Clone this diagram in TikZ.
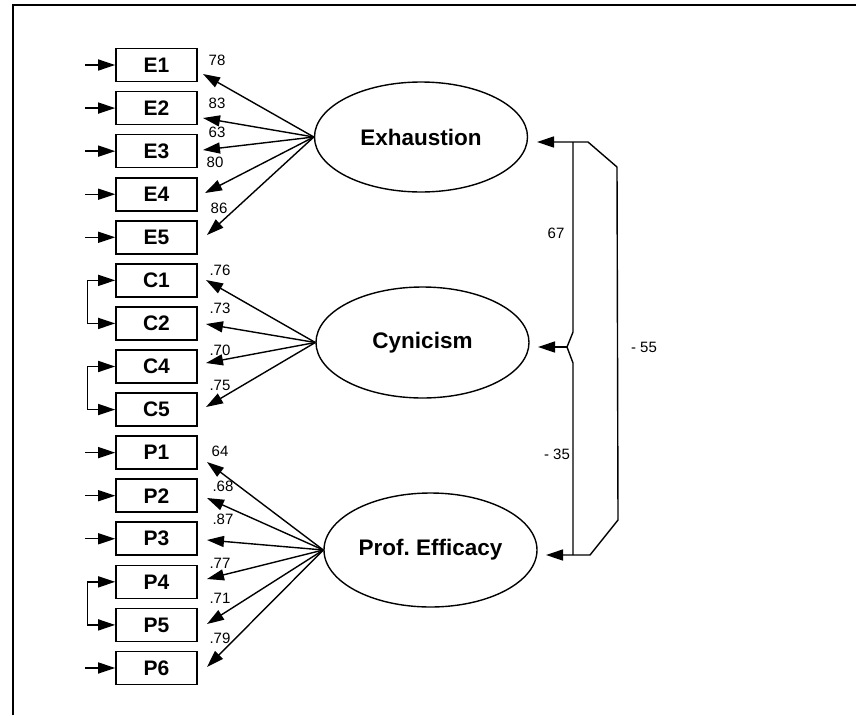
\documentclass[tikz,border=0pt]{standalone}
\usepackage{fontspec}
\setmainfont{Liberation Sans}
\usetikzlibrary{arrows.meta,shapes.geometric}
\tikzset{
  obs/.style={draw, line width=1.6pt, minimum width=81pt, minimum height=33pt, inner sep=0pt,
    font=\bfseries\fontsize{21}{21}\selectfont},
  lat/.style={draw, line width=1.4pt, ellipse, minimum width=213pt, inner sep=0pt,
    font=\bfseries\fontsize{22.5}{22.5}\selectfont},
  arr/.style={line width=1.4pt, -{Triangle[length=17pt,width=11pt]}},
  darr/.style={line width=1.4pt, {Triangle[length=17pt,width=11pt]}-{Triangle[length=17pt,width=11pt]}},
  lbl/.style={font=\fontsize{15}{15}\selectfont, inner sep=0pt},
}
\begin{document}
\begin{tikzpicture}[x=1pt,y=-1pt]
\useasboundingbox (0,0) rectangle (856,715);
% frame
\draw[line width=2.4pt] (13,715) -- (13,5) -- (856,5);
% observed boxes
\foreach \n/\i in {E1/0,E2/1,E3/2,E4/3,E5/4,C1/5,C2/6,C4/7,C5/8,P1/9,P2/10,P3/11,P4/12,P5/13,P6/14}{
  \node[obs] (\n) at (156.5,{65+43.07*\i}) {\n};
}
% error arrows
\foreach \n in {E1,E2,E3,E4,E5,P1,P2,P3,P6}{
  \coordinate (s\n) at ([xshift=-30pt]\n.west);
  \draw[arr] (s\n) -- (\n.west);
}
% correlated errors
\foreach \a/\b in {C1/C2,C4/C5,P4/P5}{
  \coordinate (k\a) at ([xshift=-28pt]\a.west);
  \coordinate (k\b) at ([xshift=-28pt]\b.west);
  \draw[darr] (\a.west) -- (k\a) -- (k\b) -- (\b.west);
}
% latent variables
\node[lat, minimum height=110pt] (Ex) at (421,137) {Exhaustion};
\node[lat, minimum height=111pt] (Cy) at (422.5,342.5) {Cynicism};
\node[lat, minimum height=114pt] (Pe) at (430.5,550) {Prof.\ Efficacy};
% loading tips
\coordinate (tE1) at (203,74);
\coordinate (tE2) at (203,118);
\coordinate (tE3) at (203,150);
\coordinate (tE4) at (205,193);
\coordinate (tE5) at (207,235);
\coordinate (tC1) at (206,280);
\coordinate (tC2) at (206,324);
\coordinate (tC4) at (206,363);
\coordinate (tC5) at (206,407);
\coordinate (tP1) at (207,462);
\coordinate (tP2) at (207,498);
\coordinate (tP3) at (207,540);
\coordinate (tP4) at (207,579);
\coordinate (tP5) at (207,624);
\coordinate (tP6) at (207,667);
\foreach \n in {E1,E2,E3,E4,E5}{\draw[arr] (Ex.west) -- (t\n);}
\foreach \n in {C1,C2,C4,C5}{\draw[arr] (Cy.west) -- (t\n);}
\foreach \n in {P1,P2,P3,P4,P5,P6}{\draw[arr] (Pe.west) -- (t\n);}
% loading labels
\node[lbl] (l1) at (217,60) {78};
\node[lbl] (l2) at (217,103) {83};
\node[lbl] (l3) at (217,132) {63};
\node[lbl] (l4) at (215,162) {80};
\node[lbl] (l5) at (219,208) {86};
\node[lbl] (l6) at (220,270) {.76};
\node[lbl] (l7) at (220,308) {.73};
\node[lbl] (l8) at (220,350) {.70};
\node[lbl] (l9) at (220,385) {.75};
\node[lbl] (l10) at (220,451) {64};
\node[lbl] (l11) at (223,486) {.68};
\node[lbl] (l12) at (223,519) {.87};
\node[lbl] (l13) at (220,563) {.77};
\node[lbl] (l14) at (220,598) {.71};
\node[lbl] (l15) at (220,638) {.79};
% correlations
\coordinate (aEx) at (537,142);
\coordinate (aCy) at (538,347);
\coordinate (aPe) at (546,555);
\coordinate (i1) at (573,142);
\coordinate (i2) at (573,332);
\coordinate (i3) at (567,347);
\coordinate (i4) at (573,363);
\coordinate (i5) at (573,555);
\coordinate (o1) at (588,142);
\coordinate (o2) at (617,167);
\coordinate (o3) at (618,520);
\coordinate (o4) at (590,555);
\draw[line width=1.4pt] (i1) -- (i2) -- (i3) -- (i4) -- (i5);
\draw[arr] (i3) -- (aCy);
\draw[darr] (aEx) -- (o1) -- (o2) -- (o3) -- (o4) -- (aPe);
\node[lbl] (r1) at (556,233) {67};
\node[lbl] (r2) at (557,454) {- 35};
\node[lbl] (r3) at (644,347) {- 55};
\end{tikzpicture}
\end{document}
